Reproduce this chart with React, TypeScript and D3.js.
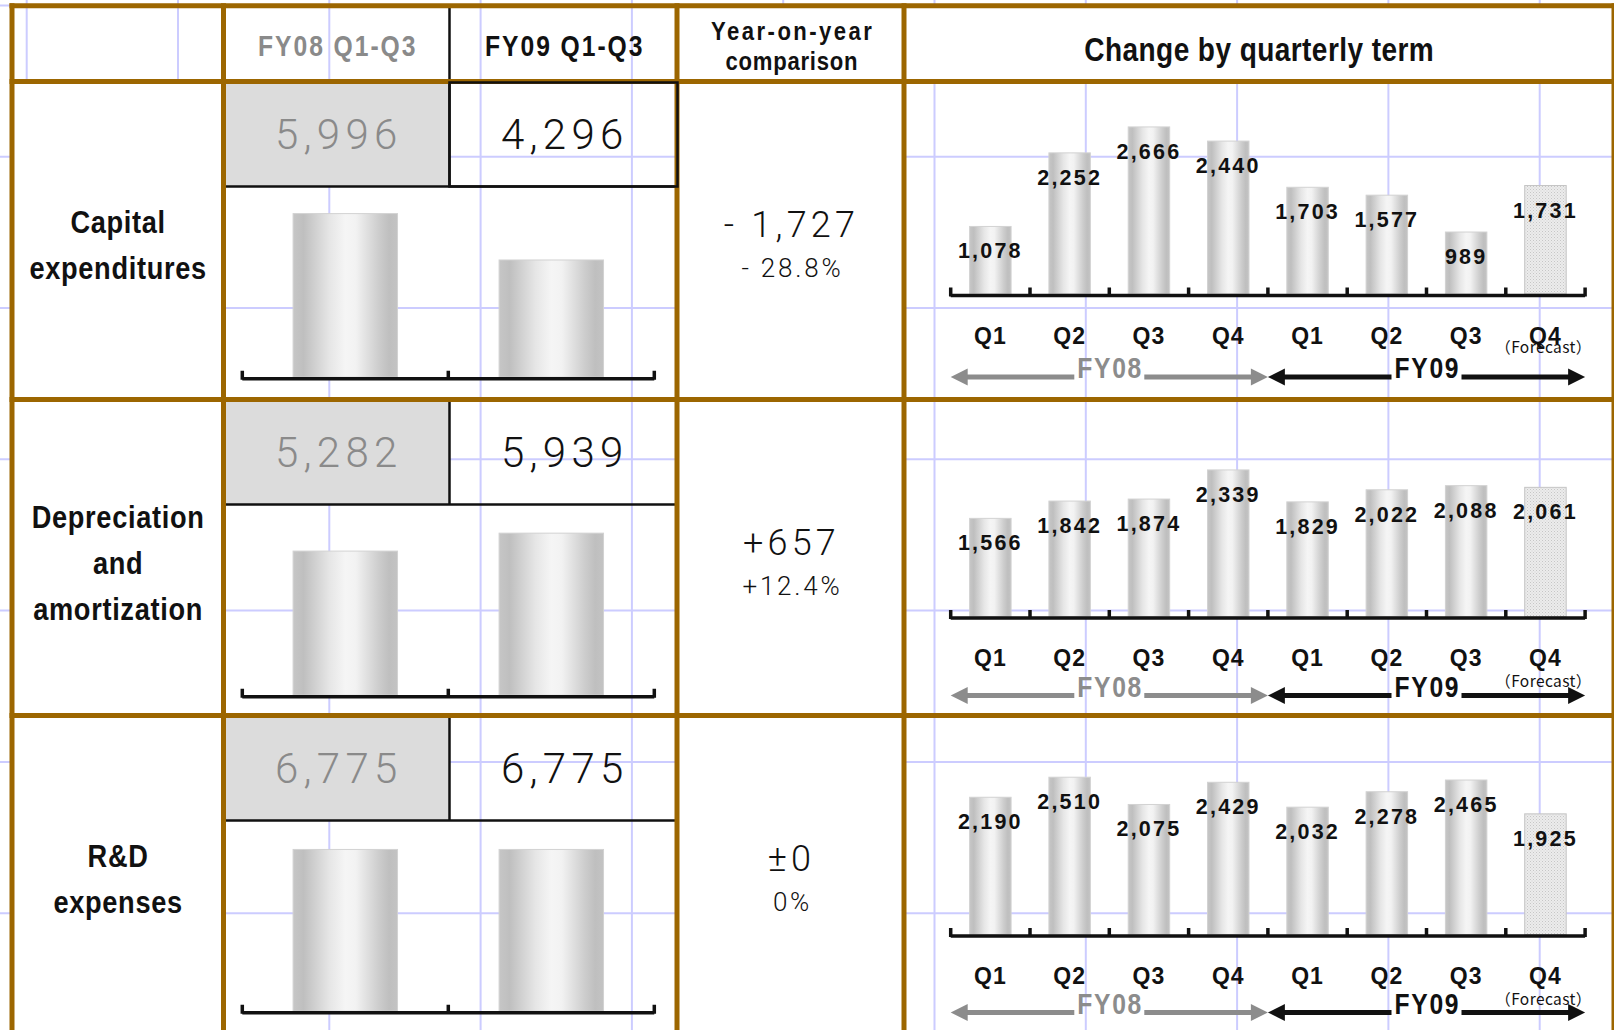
import React, { useEffect } from 'react';
import * as d3 from 'd3';

// ---- figures (100 million yen) ----
const quarterLabels = ['Q1', 'Q2', 'Q3', 'Q4', 'Q1', 'Q2', 'Q3', 'Q4'];
const fiscalYears = ['FY08', 'FY09'];
const periodHeaders = ['FY08 Q1-Q3', 'FY09 Q1-Q3'];
const metricLabels = [
  ['Capital', 'expenditures'],
  ['Depreciation', 'and', 'amortization'],
  ['R&D', 'expenses'],
];
const fy08Totals = [5996, 5282, 6775];
const fy09Totals = [4296, 5939, 6775];
const yoyChange = ['- 1,727', '+657', '±0'];
const yoyRate = ['- 28.8%', '+12.4%', '0%'];
const capexByQuarter = [1078, 2252, 2666, 2440, 1703, 1577, 989, 1731];
const depreciationByQuarter = [1566, 1842, 1874, 2339, 1829, 2022, 2088, 2061];
const rdByQuarter = [2190, 2510, 2075, 2429, 2032, 2278, 2465, 1925];
const forecastIndex = 7;
const forecastLabel = '（Forecast）';
const headerYoY = ['Year-on-year', 'comparison'];
const headerQuarterly = 'Change by quarterly term';

const quarterlySeries = [capexByQuarter, depreciationByQuarter, rdByQuarter];

// ---- layout ----
const W = 1614;
const H = 1030;
const BROWN = '#9c6600';
const INK = '#111111';
const MUTED = '#8a8a8a';
const GRID = '#ccccff';
const colEdges = [12, 223.5, 677, 904, 1614];
const rowEdges = [5.8, 81.5, 399.5, 715.5];
const valueSplitX = 449.5;
const valueCellLeft = 226;
const valueCellRight = 676;
const valueCellDepth = 105;
const gridX0 = 26.7;
const gridY0 = 5.4;
const gridStep = 151.3;
const qAxisY = [295.5, 618, 936];
const qForecastY = [353, 687, 1005];
const qArrowY = [377, 695.5, 1012.5];
const qRange: [number, number] = [950.7, 1585.1];
const qPlotHeight = 188;
const totalRange: [number, number] = [242.3, 654.3];
const totalAxisOffset = 297.2;
const totalPlotHeight = 191;

const SANS_BOLD = '"Liberation Sans", Arial, sans-serif';
const LIGHT = 'Roboto, "Noto Sans", sans-serif';
const CJK = '"Noto Sans CJK JP", "Noto Sans", sans-serif';
const SQUEEZE = 0.85;

const fmt = d3.format(',');
// spreadsheet-style automatic axis maximum
const axisMax = (max: number) => Math.ceil((max * 1.05) / 1000) * 1000;

// bold gothic text, compressed horizontally
function Condensed({
  x,
  y,
  size,
  spacing = 0,
  fill = INK,
  children,
}: {
  x: number;
  y: number;
  size: number;
  spacing?: number;
  fill?: string;
  children: React.ReactNode;
}) {
  return (
    <text
      transform={`translate(${x + (spacing * SQUEEZE) / 2},${y}) scale(${SQUEEZE},1)`}
      textAnchor="middle"
      fontFamily={SANS_BOLD}
      fontWeight="bold"
      fontSize={size}
      letterSpacing={spacing}
      fill={fill}
    >
      {children}
    </text>
  );
}

function CategoryAxis({ x0, step, n, y }: { x0: number; step: number; n: number; y: number }) {
  const ticks = d3.range(n + 1).map((i) => x0 + i * step);
  const d = `M${x0},${y}H${x0 + n * step}` + ticks.map((t) => `M${t},${y + 1}V${y - 8}`).join('');
  return <path d={d} stroke={INK} strokeWidth={3.5} fill="none" />;
}

function SpanArrow({ x0, x1, y, color, label }: { x0: number; x1: number; y: number; color: string; label: string }) {
  const cx = (x0 + x1) / 2;
  const head = 17;
  const half = 8.5;
  const gap = 35;
  return (
    <g>
      <rect x={x0 + head - 1} y={y - 2.5} width={cx - gap - (x0 + head - 1)} height={5} fill={color} />
      <rect x={cx + gap} y={y - 2.5} width={x1 - head + 1 - (cx + gap)} height={5} fill={color} />
      <path d={`M${x0},${y}L${x0 + head},${y - half}L${x0 + head},${y + half}Z`} fill={color} />
      <path d={`M${x1},${y}L${x1 - head},${y - half}L${x1 - head},${y + half}Z`} fill={color} />
      <Condensed x={cx} y={y + 1} size={29} spacing={2} fill={color}>
        {label}
      </Condensed>
    </g>
  );
}

function QuarterlyPanel({ values, row }: { values: number[]; row: number }) {
  const axisY = qAxisY[row];
  const baseline = axisY - 1.5;
  const x = d3
    .scaleBand<number>()
    .domain(d3.range(values.length))
    .range(qRange)
    .paddingInner(0.477)
    .paddingOuter(0.2385);
  const y = d3
    .scaleLinear()
    .domain([0, axisMax(d3.max(values) as number)])
    .range([baseline, baseline - qPlotHeight]);
  const step = x.step();
  const mid = qRange[0] + step * 4;
  return (
    <g>
      {values.map((v, i) => (
        <rect
          key={i}
          x={x(i)}
          y={y(v)}
          width={x.bandwidth()}
          height={baseline - y(v)}
          fill={i === forecastIndex ? 'url(#forecastFill)' : 'url(#barShade)'}
          stroke={i === forecastIndex ? '#c4c4c4' : '#d2d2d2'}
          strokeWidth={1}
        />
      ))}
      <CategoryAxis x0={qRange[0]} step={step} n={values.length} y={axisY} />
      {values.map((v, i) => (
        <text
          key={'v' + i}
          x={(x(i) as number) + x.bandwidth() / 2}
          y={y(v) + 32}
          textAnchor="middle"
          fontFamily={SANS_BOLD}
          fontWeight="bold"
          fontSize={21.5}
          letterSpacing={2.2}
          fill={INK}
        >
          {fmt(v)}
        </text>
      ))}
      {quarterLabels.map((q, i) => (
        <text
          key={'q' + i}
          x={(x(i) as number) + x.bandwidth() / 2}
          y={axisY + 48}
          textAnchor="middle"
          fontFamily={SANS_BOLD}
          fontWeight="bold"
          fontSize={23}
          letterSpacing={1}
          fill={INK}
        >
          {q}
        </text>
      ))}
      <text
        x={(x(forecastIndex) as number) + x.bandwidth() / 2 - 2}
        y={qForecastY[row]}
        textAnchor="middle"
        fontFamily={CJK}
        fontSize={15.5}
        letterSpacing={0.4}
        fill={INK}
      >
        {forecastLabel}
      </text>
      <SpanArrow x0={qRange[0]} x1={mid} y={qArrowY[row]} color="#8c8c8c" label={fiscalYears[0]} />
      <SpanArrow x0={mid} x1={qRange[1]} y={qArrowY[row]} color={INK} label={fiscalYears[1]} />
    </g>
  );
}

function TotalsPanel({ row }: { row: number }) {
  const top = rowEdges[row + 1];
  const axisY = top + totalAxisOffset;
  const baseline = axisY - 1.5;
  const totals = [fy08Totals[row], fy09Totals[row]];
  const x = d3.scaleBand<string>().domain(fiscalYears).range(totalRange).paddingInner(0.493).paddingOuter(0.2465);
  const y = d3
    .scaleLinear()
    .domain([0, axisMax(d3.max(totals) as number)])
    .range([baseline, baseline - totalPlotHeight]);
  const cellDepth = top + valueCellDepth;
  return (
    <g>
      <rect x={valueCellLeft} y={top + 2.5} width={valueSplitX - valueCellLeft} height={valueCellDepth - 2.5} fill="#dcdcdc" />
      <text
        x={(valueCellLeft + valueSplitX) / 2 + 1}
        y={top + 67.8}
        textAnchor="middle"
        fontFamily={LIGHT}
        fontWeight={300}
        fontSize={42}
        letterSpacing={5.3}
        fill={MUTED}
      >
        {fmt(totals[0])}
      </text>
      <text
        x={(valueSplitX + valueCellRight) / 2 + 2}
        y={top + 67.8}
        textAnchor="middle"
        fontFamily={LIGHT}
        fontWeight={300}
        fontSize={42}
        letterSpacing={5.3}
        fill={INK}
      >
        {fmt(totals[1])}
      </text>
      <line x1={valueSplitX} x2={valueSplitX} y1={top + 2.5} y2={cellDepth} stroke={INK} strokeWidth={2.5} />
      <line x1={valueCellLeft} x2={valueCellRight} y1={cellDepth} y2={cellDepth} stroke={INK} strokeWidth={2.5} />
      {fiscalYears.map((fy, i) => (
        <rect
          key={fy}
          x={x(fy)}
          y={y(totals[i])}
          width={x.bandwidth()}
          height={baseline - y(totals[i])}
          fill="url(#barShade)"
          stroke="#d2d2d2"
          strokeWidth={1}
        />
      ))}
      <CategoryAxis x0={totalRange[0]} step={x.step()} n={2} y={axisY} />
    </g>
  );
}

export default function App() {
  useEffect(() => {
    document.body.style.margin = '0';
  }, []);

  const gridXs = d3.range(gridX0, W, gridStep);
  const gridYs = d3.range(gridY0, H, gridStep);
  const bodyTop = rowEdges[1];

  return (
    <svg
      width={W}
      height={H}
      viewBox={`0 0 ${W} ${H}`}
      style={{ position: 'absolute', left: 0, top: 0, display: 'block' }}
    >
      <defs>
        <linearGradient id="barShade" x1="0" y1="0" x2="1" y2="0">
          <stop offset="0" stopColor="#c6c6c6" />
          <stop offset="0.1" stopColor="#bfbfbf" />
          <stop offset="0.35" stopColor="#e6e6e6" />
          <stop offset="0.5" stopColor="#f5f5f5" />
          <stop offset="0.6" stopColor="#f2f2f2" />
          <stop offset="0.82" stopColor="#cdcdcd" />
          <stop offset="0.92" stopColor="#bfbfbf" />
          <stop offset="1" stopColor="#c3c3c3" />
        </linearGradient>
        <pattern id="forecastFill" width="3" height="3" patternUnits="userSpaceOnUse">
          <rect width="3" height="3" fill="#ececec" />
          <rect width="1" height="1" fill="#c6c6c6" />
          <rect x="1.5" y="1.5" width="1" height="1" fill="#d0d0d0" />
        </pattern>
      </defs>

      <rect width={W} height={H} fill="#ffffff" />

      {/* sheet gridlines */}
      <g stroke={GRID} strokeWidth={2}>
        {gridXs.map((gx) => (
          <line key={'gx' + gx} x1={gx} x2={gx} y1={0} y2={H} />
        ))}
        {gridYs.map((gy) => (
          <line key={'gy' + gy} x1={0} x2={W} y1={gy} y2={gy} />
        ))}
      </g>

      {/* opaque cells */}
      <rect x={colEdges[0]} y={bodyTop} width={colEdges[1] - colEdges[0]} height={H - bodyTop} fill="#fff" />
      <rect x={colEdges[2]} y={rowEdges[0]} width={colEdges[3] - colEdges[2]} height={H - rowEdges[0]} fill="#fff" />
      <rect x={colEdges[3]} y={rowEdges[0]} width={colEdges[4] - colEdges[3]} height={bodyTop - rowEdges[0]} fill="#fff" />

      {/* header */}
      {periodHeaders.map((h, i) => (
        <Condensed
          key={h}
          x={i === 0 ? (valueCellLeft + valueSplitX) / 2 - 1 : (valueSplitX + valueCellRight) / 2 + 1}
          y={56}
          size={29}
          spacing={2.3}
          fill={i === 0 ? MUTED : INK}
        >
          {h}
        </Condensed>
      ))}
      <line x1={valueSplitX} x2={valueSplitX} y1={rowEdges[0]} y2={bodyTop} stroke={INK} strokeWidth={2.5} />
      {headerYoY.map((t, i) => (
        <Condensed key={t} x={(colEdges[2] + colEdges[3]) / 2 + 1} y={39.5 + i * 30.5} size={26} spacing={i === 0 ? 2.9 : 0.9}>
          {t}
        </Condensed>
      ))}
      <Condensed x={(colEdges[3] + colEdges[4]) / 2} y={61} size={33} spacing={0.5}>
        {headerQuarterly}
      </Condensed>

      {/* rows */}
      {metricLabels.map((lines, row) => {
        const top = rowEdges[row + 1];
        const first = top + 174.5 - ((lines.length - 1) * 45.8) / 2;
        return (
          <g key={row}>
            {lines.map((ln, j) => (
              <Condensed key={ln} x={(colEdges[0] + colEdges[1]) / 2} y={first + j * 45.8} size={32} spacing={0.8}>
                {ln}
              </Condensed>
            ))}
            <TotalsPanel row={row} />
            <text
              x={(colEdges[2] + colEdges[3]) / 2 + 1}
              y={top + 155.2}
              textAnchor="middle"
              fontFamily={LIGHT}
              fontWeight={300}
              fontSize={36}
              letterSpacing={4.2}
              fill={INK}
            >
              {yoyChange[row]}
            </text>
            <text
              x={(colEdges[2] + colEdges[3]) / 2 + 2}
              y={top + 195.5}
              textAnchor="middle"
              fontFamily={LIGHT}
              fontWeight={300}
              fontSize={26}
              letterSpacing={2.8}
              fill={INK}
            >
              {yoyRate[row]}
            </text>
            <QuarterlyPanel values={quarterlySeries[row]} row={row} />
          </g>
        );
      })}

      {/* table frame */}
      <g stroke={BROWN} strokeWidth={5}>
        {rowEdges.map((ry) => (
          <line key={'r' + ry} x1={colEdges[0] - 2.5} x2={W} y1={ry} y2={ry} />
        ))}
        {colEdges.map((cx) => (
          <line key={'c' + cx} x1={cx} x2={cx} y1={rowEdges[0] - 2.5} y2={H} />
        ))}
      </g>

      {/* highlighted current-period cell */}
      <rect
        x={valueSplitX}
        y={bodyTop + 1}
        width={colEdges[2] + 0.5 - valueSplitX}
        height={valueCellDepth - 1}
        fill="none"
        stroke={INK}
        strokeWidth={2.5}
      />
    </svg>
  );
}
